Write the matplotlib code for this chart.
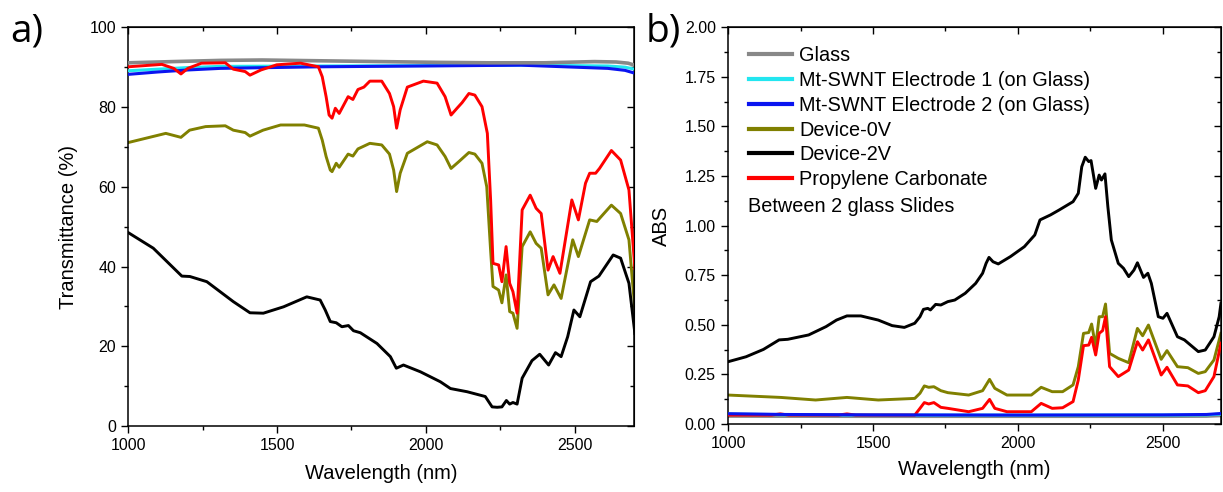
import numpy as np
import matplotlib
matplotlib.use('Agg')
import matplotlib.pyplot as plt
from matplotlib.ticker import MultipleLocator, FormatStrFormatter

plt.rcParams['font.family'] = ['Liberation Sans', 'DejaVu Sans']

# ---------------- data: panel a) transmittance (%) ----------------
glass_wl = [1000, 1150, 1309, 1450, 1646, 1850, 2050, 2207, 2400, 2567, 2640, 2680, 2702]
glass_t = [91.1, 91.4, 91.7, 91.8, 91.6, 91.4, 91.2, 91.1, 91.1, 91.4, 91.3, 91.0, 90.5]

el1_wl = [1000, 1100, 1200, 1309, 1646, 2000, 2320, 2612, 2670, 2702]
el1_t = [89.1, 89.5, 89.9, 90.2, 90.3, 90.4, 90.5, 90.3, 90.0, 89.5]

el2_wl = [1000, 1100, 1200, 1309, 1646, 2000, 2320, 2612, 2670, 2702]
el2_t = [88.2, 88.8, 89.3, 89.7, 90.1, 90.3, 90.5, 89.7, 89.2, 88.5]

dev0_wl = [1000, 1126, 1177, 1206, 1260, 1326, 1353, 1393, 1409, 1453, 1512, 1592,
           1639, 1652, 1665, 1679, 1685, 1699, 1709, 1739, 1755, 1772, 1812, 1852,
           1878, 1892, 1902, 1914, 1938, 2005, 2038, 2065, 2085, 2111, 2145, 2165,
           2189, 2205, 2218, 2226, 2245, 2256, 2270, 2282, 2293, 2307, 2324, 2351,
           2371, 2388, 2411, 2431, 2455, 2494, 2513, 2551, 2575, 2624, 2655, 2683, 2703]
dev0_t = [71.1, 73.4, 72.4, 74.2, 75.1, 75.3, 74.2, 73.6, 72.7, 74.2, 75.5, 75.5,
          74.7, 71.7, 67.6, 64.2, 63.8, 65.9, 64.9, 68.2, 67.7, 69.5, 70.9, 70.5,
          68.2, 64.2, 58.8, 63.4, 68.4, 71.3, 70.5, 67.6, 64.6, 66.3, 68.6, 68.2,
          65.9, 60.0, 44.0, 35.0, 34.1, 30.9, 37.9, 28.7, 28.3, 24.5, 45.0, 48.7,
          45.8, 44.6, 32.9, 35.4, 32.0, 46.7, 42.5, 51.7, 51.3, 55.4, 53.3, 46.7, 29.1]

dev2_wl = [1000, 1084, 1180, 1207, 1264, 1353, 1409, 1454, 1522, 1600, 1645, 1662,
           1679, 1699, 1718, 1740, 1757, 1780, 1836, 1881, 1901, 1925, 1982, 2049,
           2083, 2139, 2200, 2223, 2240, 2256, 2271, 2282, 2293, 2307, 2324, 2357,
           2383, 2413, 2436, 2455, 2477, 2498, 2518, 2554, 2582, 2630, 2655, 2683, 2703]
dev2_t = [48.5, 44.6, 37.6, 37.5, 36.2, 31.2, 28.4, 28.3, 29.9, 32.4, 31.6, 29.1,
          26.2, 25.9, 24.9, 25.2, 23.9, 23.4, 20.7, 17.4, 14.5, 15.3, 13.6, 11.1,
          9.4, 8.6, 7.4, 4.8, 4.7, 4.8, 6.4, 5.5, 5.9, 5.5, 12.0, 16.4,
          18.0, 15.3, 18.4, 17.4, 22.4, 29.1, 27.4, 36.2, 37.6, 42.9, 42.1, 35.8, 23.2]

pc_wl = [1000, 1113, 1153, 1177, 1200, 1246, 1326, 1353, 1393, 1409, 1446, 1499,
         1579, 1639, 1652, 1665, 1675, 1685, 1696, 1709, 1739, 1755, 1772, 1792,
         1812, 1852, 1878, 1892, 1902, 1914, 1938, 1992, 2038, 2065, 2085, 2105,
         2122, 2145, 2165, 2189, 2207, 2218, 2226, 2245, 2256, 2270, 2282, 2293,
         2307, 2324, 2351, 2371, 2388, 2411, 2428, 2451, 2491, 2513, 2537, 2551,
         2571, 2584, 2624, 2655, 2683, 2703]
pc_t = [90.1, 90.7, 89.7, 88.3, 89.7, 91.0, 91.1, 89.5, 88.9, 88.0, 89.3, 90.6,
        91.0, 90.1, 87.6, 82.6, 78.0, 77.2, 79.7, 78.4, 82.6, 81.9, 84.4, 85.0,
        86.5, 86.5, 83.4, 80.1, 74.7, 79.3, 85.0, 86.5, 86.0, 82.6, 78.0, 79.7,
        81.1, 83.4, 83.0, 80.1, 73.4, 56.7, 40.8, 40.4, 36.2, 45.0, 35.8, 33.7,
        28.3, 54.2, 57.9, 54.6, 53.3, 39.1, 42.5, 38.3, 56.7, 51.7, 60.9, 63.4,
        63.4, 64.6, 69.1, 66.7, 59.2, 39.5]

# ---------------- data: panel b) absorbance ----------------
glass_a_wl = [1000, 1500, 2000, 2500, 2650, 2700]
glass_a = [0.040, 0.039, 0.039, 0.039, 0.040, 0.043]

el1_a_wl = [1000, 1200, 1500, 2000, 2500, 2650, 2700]
el1_a = [0.050, 0.047, 0.045, 0.045, 0.045, 0.046, 0.050]

el2_a_wl = [1000, 1200, 1500, 2000, 2500, 2650, 2700]
el2_a = [0.052, 0.048, 0.046, 0.045, 0.046, 0.048, 0.053]

dev0_a_wl = [1000, 1182, 1302, 1410, 1518, 1644, 1662, 1677, 1692, 1710, 1734, 1758,
             1830, 1878, 1902, 1920, 1962, 2046, 2080, 2118, 2154, 2190, 2208, 2226,
             2244, 2254, 2268, 2280, 2292, 2302, 2316, 2346, 2382, 2412, 2430, 2450,
             2494, 2514, 2550, 2586, 2622, 2646, 2676, 2700]
dev0_a = [0.146, 0.134, 0.121, 0.134, 0.121, 0.129, 0.155, 0.192, 0.185, 0.188, 0.168, 0.158,
          0.146, 0.168, 0.225, 0.180, 0.146, 0.146, 0.185, 0.163, 0.163, 0.197, 0.289, 0.457,
          0.461, 0.504, 0.390, 0.541, 0.541, 0.605, 0.356, 0.331, 0.309, 0.482, 0.445, 0.499,
          0.326, 0.370, 0.289, 0.284, 0.255, 0.264, 0.323, 0.457]

dev2_a_wl = [1000, 1062, 1122, 1176, 1206, 1278, 1338, 1374, 1410, 1458, 1518, 1566,
             1608, 1644, 1662, 1674, 1689, 1698, 1716, 1734, 1758, 1782, 1818, 1854,
             1878, 1890, 1900, 1914, 1932, 1974, 2022, 2058, 2076, 2112, 2142, 2190,
             2208, 2220, 2232, 2244, 2252, 2268, 2280, 2288, 2300, 2310, 2322, 2346,
             2364, 2382, 2400, 2412, 2433, 2448, 2460, 2484, 2500, 2514, 2550, 2574,
             2622, 2646, 2676, 2694, 2700]
dev2_a = [0.314, 0.339, 0.376, 0.424, 0.427, 0.449, 0.491, 0.524, 0.545, 0.545, 0.524, 0.496,
          0.487, 0.508, 0.541, 0.578, 0.583, 0.575, 0.603, 0.600, 0.617, 0.625, 0.659, 0.709,
          0.760, 0.810, 0.840, 0.818, 0.807, 0.844, 0.894, 0.953, 1.029, 1.054, 1.079, 1.121,
          1.163, 1.297, 1.345, 1.323, 1.328, 1.188, 1.255, 1.230, 1.261, 1.096, 0.928, 0.810,
          0.785, 0.743, 0.776, 0.813, 0.739, 0.760, 0.709, 0.541, 0.533, 0.558, 0.440, 0.424,
          0.365, 0.373, 0.440, 0.541, 0.608]

pc_a_wl = [1000, 1150, 1180, 1210, 1380, 1410, 1440, 1644, 1662, 1677, 1692, 1710,
           1734, 1758, 1830, 1878, 1902, 1920, 1962, 2046, 2080, 2118, 2154, 2190,
           2208, 2226, 2244, 2254, 2268, 2280, 2292, 2302, 2316, 2346, 2382, 2412,
           2430, 2450, 2494, 2514, 2550, 2586, 2622, 2646, 2676, 2700]
pc_a = [0.045, 0.045, 0.051, 0.045, 0.045, 0.051, 0.045, 0.045, 0.079, 0.108, 0.101, 0.108,
        0.084, 0.079, 0.062, 0.079, 0.124, 0.079, 0.062, 0.062, 0.104, 0.079, 0.082, 0.113,
        0.222, 0.395, 0.398, 0.437, 0.348, 0.457, 0.471, 0.541, 0.289, 0.239, 0.272, 0.415,
        0.373, 0.424, 0.247, 0.286, 0.197, 0.192, 0.158, 0.168, 0.239, 0.407]

labels = ['Glass', 'Mt-SWNT Electrode 1 (on Glass)', 'Mt-SWNT Electrode 2 (on Glass)',
          'Device-0V', 'Device-2V', 'Propylene Carbonate']
colors = ['#888888', '#22e6f0', '#0a14f0', '#808000', '#000000', '#ff0000']


def style_axes(ax, xmin, xmax, ymin, ymax, ymaj, ymin_step, fmt):
    ax.set_xlim(xmin, xmax)
    ax.set_ylim(ymin, ymax)
    ax.xaxis.set_major_locator(MultipleLocator(500))
    ax.xaxis.set_minor_locator(MultipleLocator(250))
    ax.yaxis.set_major_locator(MultipleLocator(ymaj))
    ax.yaxis.set_minor_locator(MultipleLocator(ymin_step))
    if fmt:
        ax.yaxis.set_major_formatter(FormatStrFormatter(fmt))
    for s in ax.spines.values():
        s.set_linewidth(1.1)
    ax.tick_params(which='major', direction='out', length=4.8, width=1.0,
                   labelsize=11.5, pad=4)
    ax.tick_params(which='minor', direction='out', length=2.6, width=1.0)
    # inward ticks on top / right like the original
    top = ax.secondary_xaxis('top')
    top.xaxis.set_major_locator(MultipleLocator(500))
    top.xaxis.set_minor_locator(MultipleLocator(250))
    top.tick_params(which='major', direction='in', length=4.8, width=1.0, labeltop=False)
    top.tick_params(which='minor', direction='in', length=2.6, width=1.0)
    right = ax.secondary_yaxis('right')
    right.yaxis.set_major_locator(MultipleLocator(ymaj))
    right.yaxis.set_minor_locator(MultipleLocator(ymin_step))
    right.tick_params(which='major', direction='in', length=4.8, width=1.0, labelright=False)
    right.tick_params(which='minor', direction='in', length=2.6, width=1.0)


fig = plt.figure(figsize=(12.23, 4.92), dpi=100)
ax1 = fig.add_axes((0.1049, 0.1341, 0.4135, 0.8104))
ax2 = fig.add_axes((0.5953, 0.1382, 0.4030, 0.8063))

# panel a)
t_data = [(glass_wl, glass_t), (el1_wl, el1_t), (el2_wl, el2_t),
          (dev0_wl, dev0_t), (dev2_wl, dev2_t), (pc_wl, pc_t)]
widths = [2.6, 2.2, 2.2, 2.1, 2.1, 2.1]
zorders = [5, 3, 4, 2, 2, 6]
for (x, y), c, lw, z in zip(t_data, colors, widths, zorders):
    ax1.plot(x, y, color=c, lw=lw, zorder=z, solid_joinstyle='round')
style_axes(ax1, 1000, 2700, 0, 100, 20, 10, None)
ax1.set_xlabel('Wavelength (nm)', fontsize=14.5, labelpad=8)
ax1.set_ylabel('Transmittance (%)', fontsize=14.5, labelpad=8)

# panel b)
a_data = [(glass_a_wl, glass_a), (el1_a_wl, el1_a), (el2_a_wl, el2_a),
          (dev0_a_wl, dev0_a), (dev2_a_wl, dev2_a), (pc_a_wl, pc_a)]
zorders_b = [2, 3, 5, 2, 2, 4]
for (x, y), c, lw, z, lab in zip(a_data, colors, widths, zorders_b, labels):
    ax2.plot(x, y, color=c, lw=lw, zorder=z, label=lab, solid_joinstyle='round')
style_axes(ax2, 1000, 2700, 0, 2.0, 0.25, 0.125, '%.2f')
ax2.set_xlabel('Wavelength (nm)', fontsize=14.5, labelpad=6)
ax2.set_ylabel('ABS', fontsize=14.5, labelpad=10)

leg = ax2.legend(loc='upper left', bbox_to_anchor=(0.042, 0.952), frameon=False,
                 fontsize=14.3, handlelength=2.2, handletextpad=0.35,
                 labelspacing=0.29, borderpad=0, borderaxespad=0)
for h in leg.get_lines():
    h.set_linewidth(3.0)
ax2.text(0.0405, 0.549, 'Between 2 glass Slides', transform=ax2.transAxes,
         fontsize=14.3, va='center', ha='left')

fig.text(0.008, 0.935, 'a)', fontsize=28, family=['Open Sans', 'DejaVu Sans'], va='center')
fig.text(0.528, 0.935, 'b)', fontsize=28, family=['Open Sans', 'DejaVu Sans'], va='center')

plt.savefig('out.png', dpi=100)
